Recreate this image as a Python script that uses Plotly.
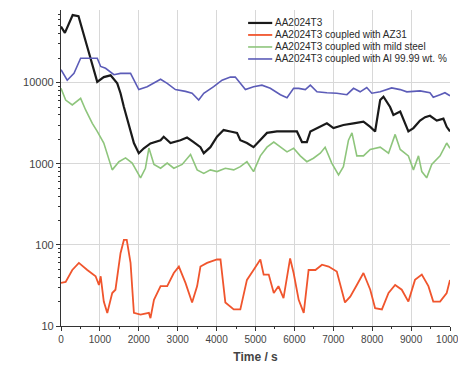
import plotly.graph_objects as go

# ---- data ----
t_black = [0, 100, 300, 450, 676, 847, 932, 1100, 1275, 1446, 1530, 1617, 1788, 1874, 2000, 2130, 2300, 2560, 2640, 2815,
           3070, 3240, 3410, 3585, 3670, 3840, 4010, 4180, 4355, 4525, 4610, 4780, 4950, 5125, 5295, 5550, 5890, 6065,
           6195, 6320, 6410, 6665, 6835, 7005, 7260, 7520, 7775, 7950, 8075, 8205, 8290, 8460, 8545, 8720, 8845, 8930,
           9060, 9230, 9360, 9485, 9660, 9830, 9915, 10000]
v_black = [49000, 41000, 68000, 66000, 27500, 13500, 10200, 11700, 12300, 9800, 7400, 5000, 2400, 1800, 1350, 1550, 1780,
           1950, 2150, 1800, 1950, 2100, 1850, 1600, 1350, 1600, 2150, 2600, 2500, 2400, 1950, 1800, 1600, 1950, 2400,
           2500, 2500, 2500, 1850, 1850, 2500, 2850, 3150, 2750, 3000, 3150, 3300, 2850, 2500, 6100, 6700, 5000, 4000,
           4400, 3200, 2500, 2750, 3400, 3750, 3900, 3400, 3600, 2850, 2500]

t_red = [0, 120, 290, 460, 676, 890, 975, 1020, 1100, 1190, 1317, 1400, 1530, 1617, 1690, 1788, 1874, 2045, 2260, 2300,
         2390, 2560, 2730, 2900, 3030, 3200, 3370, 3500, 3585, 3755, 4010, 4100, 4225, 4440, 4610, 4780, 4950, 5125,
         5210, 5340, 5470, 5590, 5720, 5890, 5980, 6110, 6240, 6365, 6540, 6710, 6880, 7090, 7300, 7435, 7605, 7775,
         7950, 8075, 8250, 8420, 8590, 8760, 8930, 9100, 9275, 9445, 9570, 9745, 9915, 10000]
v_red = [34, 35, 49, 60, 49, 41, 32, 41, 20, 14.5, 25.5, 28, 79, 115, 115, 60, 14.5, 13.8, 14.5, 12.5, 21, 31, 31, 45, 54,
         34, 19.5, 31, 54, 60, 66, 66, 19.5, 16, 16, 37, 49, 66, 43, 43, 25.5, 31, 22, 68, 45, 21, 14.5, 49, 49, 57, 54,
         47, 19.5, 23, 32, 45, 28, 16.6, 16, 25.5, 32, 28, 20, 37, 43, 31, 20, 20, 25.5, 37]

t_green = [0, 120, 290, 505, 633, 805, 932, 1100, 1317, 1490, 1660, 1830, 2045, 2170, 2260, 2390, 2560, 2730, 2900, 3115,
           3330, 3500, 3670, 3840, 4010, 4225, 4440, 4610, 4780, 4950, 5125, 5295, 5470, 5640, 5810, 5980, 6150, 6320,
           6490, 6665, 6790, 6960, 7135, 7260, 7390, 7480, 7605, 7775, 7950, 8205, 8420, 8590, 8720, 8930, 9060, 9190,
           9275, 9400, 9530, 9745, 9915, 10000]
v_green = [8500, 6100, 5300, 6400, 4600, 3150, 2500, 1800, 840, 1060, 1180, 1020, 670, 880, 1560, 980, 880, 1020, 880,
           980, 1300, 840, 760, 840, 800, 880, 840, 920, 1060, 800, 1250, 1600, 1850, 1600, 1400, 1550, 1250, 1060, 1170,
           1350, 1600, 1020, 730, 920, 1950, 2400, 1250, 1250, 1500, 1600, 1350, 2300, 1500, 1250, 840, 1250, 800, 670,
           980, 1250, 1800, 1550]

t_blue = [0, 160, 334, 505, 676, 932, 1020, 1146, 1360, 1530, 1788, 2000, 2215, 2390, 2560, 2730, 2940, 3200, 3370, 3540,
          3670, 3925, 4140, 4355, 4480, 4610, 4740, 4950, 5165, 5380, 5640, 5810, 5980, 6110, 6280, 6410, 6580, 6835,
          7090, 7350, 7520, 7690, 7860, 7990, 8205, 8500, 8720, 8890, 9230, 9485, 9570, 9745, 9870, 10000]
v_blue = [14400, 10700, 13000, 20000, 20000, 20000, 15800, 15000, 12500, 13000, 13000, 8200, 8900, 9800, 11000, 9800,
          8200, 7800, 7400, 6100, 7400, 8900, 10700, 11700, 11700, 9800, 8200, 8900, 9300, 8500, 7100, 6500, 8500, 8500,
          8200, 9300, 7700, 7500, 7400, 7100, 8500, 7700, 8700, 7400, 7700, 8600, 8200, 7700, 7900, 7500, 6600, 7100,
          7500, 6900]

names = ["AA2024T3", "AA2024T3 coupled with AZ31", "AA2024T3 coupled with mild steel",
         "AA2024T3 coupled with Al 99.99 wt. %"]
colors = ["#1a1a1a", "#f0552d", "#8ec57c", "#5c5cb8"]
widths = [2.2, 1.8, 1.6, 1.6]

x_ticks = [0, 1000, 2000, 3000, 4000, 5000, 6000, 7000, 8000, 9000, 10000]
y_ticks = [10, 100, 1000, 10000]
y_minor = [m * 10 ** d for d in range(1, 5) for m in range(2, 10)]

fig = go.Figure()
for t, v, n, c, w in zip([t_black, t_red, t_green, t_blue], [v_black, v_red, v_green, v_blue], names, colors, widths):
    fig.add_trace(go.Scatter(x=t, y=v, mode="lines", name=n, line=dict(color=c, width=w), showlegend=False))

# manual legend (compact, as in the reference)
leg_y = [0.959, 0.921, 0.883, 0.845]
for n, c, w, yy in zip(names, colors, widths, leg_y):
    fig.add_shape(type="line", xref="paper", yref="paper", x0=0.481, x1=0.543, y0=yy, y1=yy,
                  line=dict(color=c, width=w))
    fig.add_annotation(xref="paper", yref="paper", x=0.546, y=yy, text=n, showarrow=False,
                       xanchor="left", yanchor="middle", font=dict(size=10, color="#2a2a2a"))

fig.update_layout(
    width=458, height=372,
    margin=dict(l=61, r=8, t=10, b=46),
    paper_bgcolor="white", plot_bgcolor="white",
    font=dict(family="Liberation Sans, Arial", size=10, color="#444"),
    showlegend=False,
)
fig.update_xaxes(
    range=[0, 10000], tickvals=x_ticks, ticktext=[str(v) for v in x_ticks],
    ticklabeloverflow="allow", automargin=False,
    showline=True, linecolor="#333", linewidth=1.2, mirror=False,
    showgrid=True, gridcolor="#d8d8d8", gridwidth=1,
    ticks="outside", ticklen=4, tickcolor="#333",
    tickfont=dict(size=10, color="#444"),
    minor=dict(dtick=500, ticks="outside", ticklen=2, tickcolor="#333", showgrid=False),
    zeroline=False,
    title=dict(text="<b>Time / s</b>", font=dict(size=12, color="#444"), standoff=8),
)
fig.update_yaxes(
    type="log", range=[1, 4.895], tickvals=y_ticks, ticktext=[str(v) for v in y_ticks],
    automargin=False,
    showline=True, linecolor="#333", linewidth=1.2,
    showgrid=True, gridcolor="#d8d8d8", gridwidth=1,
    ticks="outside", ticklen=4, tickcolor="#333",
    tickfont=dict(size=11, color="#444"),
    minor=dict(tickvals=y_minor, ticks="outside", ticklen=2, tickcolor="#333", showgrid=False),
    zeroline=False,
)

fig.write_html("out.html")
